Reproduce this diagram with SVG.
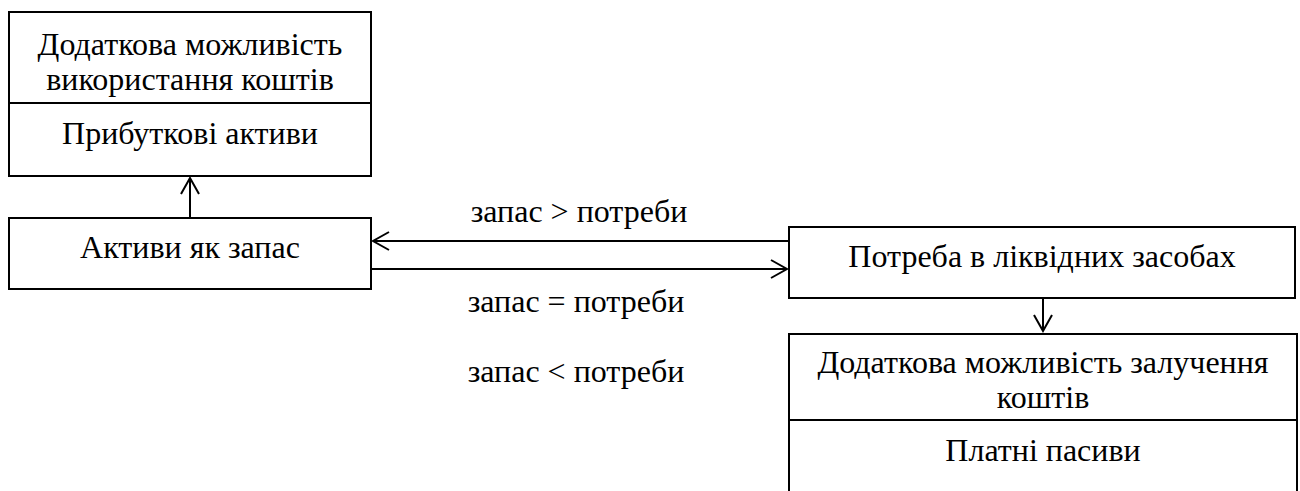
<svg xmlns="http://www.w3.org/2000/svg" width="1300" height="491" viewBox="0 0 1300 491">
<style>
.box{fill:#fff;stroke:#000;stroke-width:2}
.c{fill:none;stroke:#000;stroke-width:2}
</style>
<defs>
<marker id="ah" viewBox="0 0 20 20" refX="18" refY="10" markerWidth="20" markerHeight="20" markerUnits="userSpaceOnUse" orient="auto">
<path d="M2,1 L18,10 L2,19" fill="none" stroke="#000" stroke-width="2"/>
</marker>
</defs>
<rect width="1300" height="491" fill="#fff"/>
<g font-family="'Liberation Serif', 'DejaVu Serif', serif" font-size="32" text-anchor="middle" fill="#000">
<g id="n1">
<rect class="box" x="9" y="12" width="362" height="164"/>
<line class="c" x1="9" y1="103" x2="371" y2="103"/>
<text x="190" y="55">Додаткова можливість</text>
<text x="190" y="90">використання коштів</text>
<text x="190" y="144">Прибуткові активи</text>
</g>
<g id="n2">
<rect class="box" x="9" y="218" width="362" height="71"/>
<text x="190" y="258">Активи як запас</text>
</g>
<g id="n3">
<rect class="box" x="789" y="227" width="506" height="71"/>
<text x="1042" y="267">Потреба в ліквідних засобах</text>
</g>
<g id="n4">
<rect class="box" x="789" y="334" width="508" height="170"/>
<line class="c" x1="789" y1="420" x2="1297" y2="420"/>
<text x="1043" y="373">Додаткова можливість залучення</text>
<text x="1043" y="408">коштів</text>
<text x="1043" y="461">Платні пасиви</text>
</g>
<g id="connectors">
<line class="c" x1="190" y1="218" x2="190" y2="178" marker-end="url(#ah)"/>
<line class="c" x1="789" y1="241" x2="373" y2="241" marker-end="url(#ah)"/>
<line class="c" x1="371" y1="269" x2="787" y2="269" marker-end="url(#ah)"/>
<line class="c" x1="1043" y1="298" x2="1043" y2="331" marker-end="url(#ah)"/>
</g>
<g id="labels">
<text x="579" y="222">запас &gt; потреби</text>
<text x="576" y="312">запас = потреби</text>
<text x="576" y="382">запас &lt; потреби</text>
</g>
</g>
</svg>
